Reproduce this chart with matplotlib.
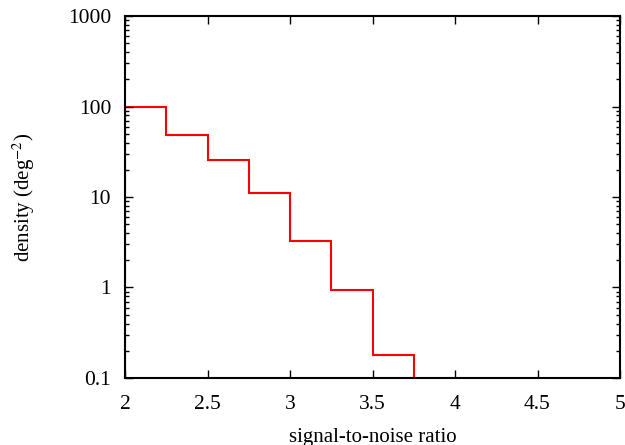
import matplotlib
matplotlib.use("Agg")
import matplotlib.pyplot as plt
from matplotlib.ticker import LogLocator, FixedLocator, NullFormatter

# bin edges and densities
edges = [2.0, 2.25, 2.5, 2.75, 3.0, 3.25, 3.5, 3.75]
density = [100, 48, 25.5, 11, 3.25, 0.94, 0.18]

xticks = [2, 2.5, 3, 3.5, 4, 4.5, 5]
xticklabels = ["2", "2.5", "3", "3.5", "4", "4.5", "5"]
yticks = [0.1, 1, 10, 100, 1000]
yticklabels = ["0.1", "1", "10", "100", "1000"]

plt.rcParams["font.family"] = ["Liberation Serif", "DejaVu Serif"]
plt.rcParams["mathtext.fontset"] = "stix"

fig = plt.figure(figsize=(6.25, 4.45), dpi=100)
ax = fig.add_axes([0.2, 0.1506, 0.792, 0.8134])

ax.stairs(density, edges, baseline=0.01, color="red", lw=1.5)

ax.set_yscale("log")
ax.set_xlim(2, 5)
ax.set_ylim(0.1, 1000)

ax.set_xticks(xticks)
ax.set_xticklabels(xticklabels)
ax.yaxis.set_major_locator(FixedLocator(yticks))
ax.set_yticklabels(yticklabels)
ax.yaxis.set_minor_locator(LogLocator(base=10, subs=range(2, 10)))
ax.yaxis.set_minor_formatter(NullFormatter())

ax.tick_params(which="both", direction="in", top=True, right=True, labelsize=15.5, width=1)
ax.tick_params(which="major", length=6)
ax.tick_params(axis="x", which="major", pad=12)
ax.tick_params(axis="y", which="major", pad=10)
ax.tick_params(which="minor", length=3)
ax.tick_params(axis="x", which="minor", bottom=False, top=False)

for s in ax.spines.values():
    s.set_linewidth(1.5)

ax.set_xlabel("signal-to-noise ratio", fontsize=15, labelpad=10)
ax.set_ylabel(r"density (deg$^{\mathrm{-2}}$)", fontsize=15, labelpad=22)

fig.savefig("out.png", dpi=100, facecolor="white")
